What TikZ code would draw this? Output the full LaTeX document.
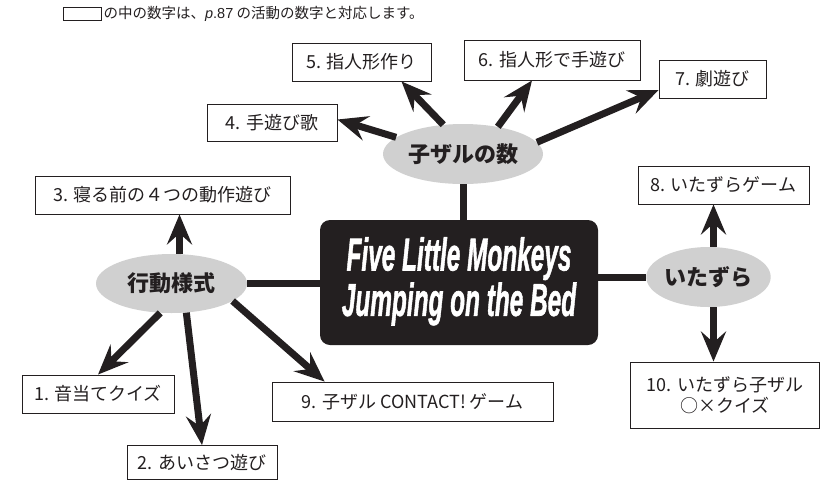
\documentclass[tikz,border=0pt]{standalone}
\usepackage{fontspec}
\usepackage{graphicx}
\setmainfont{Noto Sans CJK JP}
\newfontfamily\latinfont{Liberation Sans}
\newfontfamily\titlefont{Liberation Sans}[BoldItalicFeatures={FakeBold=1.6}]
\usetikzlibrary{arrows.meta,shapes.geometric,calc}
\definecolor{boxline}{RGB}{35,31,32}
\definecolor{ovalgray}{RGB}{208,208,208}
\begin{document}
\begin{tikzpicture}[x=1pt,y=-1pt,
	item/.style={draw=boxline,line width=0.9pt,fill=white,inner sep=0pt,text=boxline,font=\fontsize{18}{21}\selectfont},
	topic/.style={ellipse,fill=ovalgray,inner sep=0pt,text=boxline,font=\fontsize{22}{24}\selectfont\bfseries},
	link/.style={line width=7pt,draw=boxline},
	arr/.style={link,-{Stealth[length=30pt,width=25pt,inset=11pt]}}]
	\useasboundingbox (0,0) rectangle (822,480);
	% note on top
	\node[draw=boxline,line width=0.8pt,minimum width=38pt,minimum height=13pt,inner sep=0pt] (key) at (82,14) {};
	\node[anchor=west,inner sep=0pt,text=boxline,font=\fontsize{14.5}{16}\selectfont] (note) at ([xshift=2pt]key.east) {の中の数字は、{\latinfont\itshape p}{\latinfont .87} の活動の数字と対応します。};
	% centre
	\node[fill=boxline,rounded corners=10pt,minimum width=278pt,minimum height=125pt,inner sep=0pt,text=white] (title) at (459,282.5)
		{\scalebox{0.53}[1]{\fontsize{46}{40}\titlefont\bfseries\itshape\begin{tabular}{@{}c@{}}Five Little Monkeys\\Jumping on the Bed\end{tabular}}};
	% topics
	\node[topic,minimum width=160pt,minimum height=60pt] (kozaru) at (463,154) {子ザルの数};
	\node[topic,minimum width=151pt,minimum height=59pt] (kodo) at (171.5,283.5) {行動様式};
	\node[topic,minimum width=113pt,minimum height=60pt] (itazura) at (708.5,277) {いたずら};
	% activities
	\node[item,minimum width=152pt,minimum height=38pt] (b1) at (98,394) {1. 音当てクイズ};
	\node[item,minimum width=150pt,minimum height=34pt] (b2) at (202,462.5) {2. あいさつ遊び};
	\node[item,minimum width=255pt,minimum height=38pt] (b3) at (162.5,195) {3. 寝る前の４つの動作遊び};
	\node[item,minimum width=130pt,minimum height=37pt] (b4) at (272,122.5) {4. 手遊び歌};
	\node[item,minimum width=139pt,minimum height=38pt] (b5) at (361.5,62) {5. 指人形作り};
	\node[item,minimum width=176pt,minimum height=40pt] (b6) at (552,60) {6. 指人形で手遊び};
	\node[item,minimum width=107pt,minimum height=38pt] (b7) at (712.5,79) {7. 劇遊び};
	\node[item,minimum width=171pt,minimum height=38pt] (b8) at (723.5,185) {8. いたずらゲーム};
	\node[item,minimum width=281pt,minimum height=39pt] (b9) at (412.5,401.5) {9. 子ザル CONTACT! ゲーム};
	\node[item,minimum width=189pt,minimum height=66pt,align=center] (b10) at (725,395) {10. いたずら子ザル\\○×クイズ};
	% lines to the centre
	\draw[link] (kozaru.south) -- (kozaru.south |- title.north);
	\draw[link] (kodo.east) -- (kodo.east -| title.west);
	\draw[link] (itazura.west -| title.east) -- (itazura.west);
	% arrows
	\draw[arr] (kozaru.166) -- ($(b4.east)+(0,-3)$);
	\draw[arr] (kozaru.124) -- ($(b5.south)+(40,0)$);
	\draw[arr] (kozaru.38) -- ($(b6.south)+(-20,0)$);
	\draw[arr] (kozaru.9) -- ($(b7.west)+(0,11)$);
	\draw[arr] ([xshift=8pt]kodo.north) -- ([xshift=8pt]kodo.north |- b3.south);
	\draw[arr] (kodo.-111) -- (b1.north);
	\draw[arr] (kodo.-63) -- (b2.north);
	\draw[arr] (kodo.-16) -- ($(b9.north west)+(53,0)$);
	\draw[arr] ([xshift=5pt]itazura.north) -- ([xshift=5pt]itazura.north |- b8.south);
	\draw[arr] ([xshift=5pt]itazura.south) -- ([xshift=5pt]itazura.south |- b10.north);
\end{tikzpicture}
\end{document}
